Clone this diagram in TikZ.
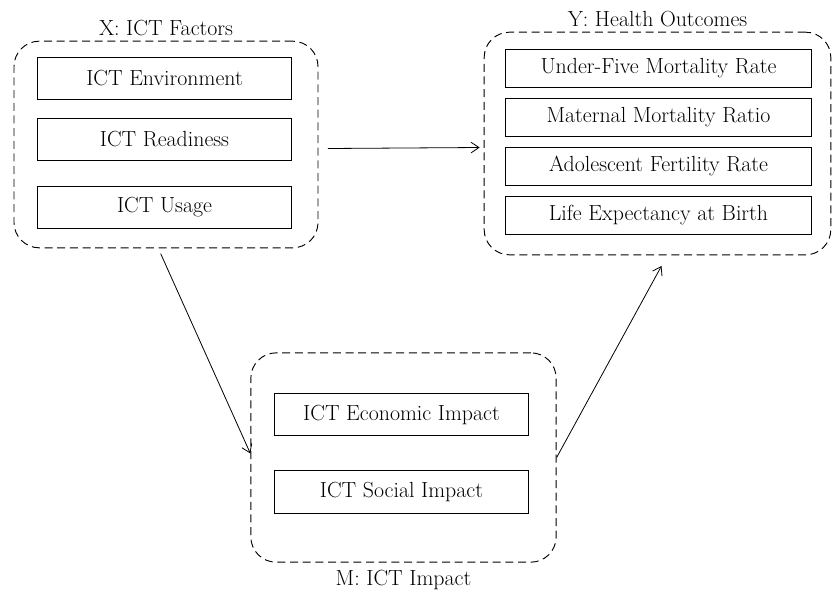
\documentclass[tikz,border=0pt]{standalone}
\usepackage{amsmath}
\usepackage{fontspec}
\usepackage{tikz}
\usetikzlibrary{positioning,arrows.meta}

\begin{document}
\begin{tikzpicture}[x=0.75pt,y=-0.75pt,every node/.style={font=\fontsize{16.4}{19}\selectfont}]
\tikzstyle{group}=[draw,dash pattern=on 6pt off 3.5pt,line width=0.7pt,rounded corners=19pt];
\tikzstyle{item}=[draw,line width=0.7pt,inner sep=0pt];
\tikzstyle{arr}=[line width=0.6pt,-{Straight Barb[length=6pt,width=8pt]}];
\useasboundingbox (0,0) rectangle (832,597);

% X: ICT factors
\node[group,minimum width=228pt,minimum height=155pt] (X) at (166,144.5) {};
\node[above=0pt of X] (Xlab) {X: ICT Factors};
\node[item,minimum width=190pt,minimum height=31.5pt] (env) at (164.5,78) {ICT Environment};
\node[item,minimum width=190pt,minimum height=31.5pt] (ready) at (164.5,139) {ICT Readiness};
\node[item,minimum width=190pt,minimum height=31.5pt] (usage) at (164.5,207) {ICT Usage};

% Y: health outcomes
\node[group,minimum width=260pt,minimum height=167pt] (Y) at (657.5,143.5) {};
\node[above=0pt of Y] (Ylab) {Y: Health Outcomes};
\node[item,minimum width=230pt,minimum height=28.5pt] (u5) at (658.5,68) {Under-Five Mortality Rate};
\node[item,minimum width=230pt,minimum height=28.5pt] (mmr) at (658.5,117.5) {Maternal Mortality Ratio};
\node[item,minimum width=230pt,minimum height=28.5pt] (afr) at (658.5,166) {Adolescent Fertility Rate};
\node[item,minimum width=230pt,minimum height=28.5pt] (life) at (658.5,215) {Life Expectancy at Birth};

% M: ICT impact
\node[group,minimum width=229pt,minimum height=157pt] (M) at (403.5,457.5) {};
\node[below=2pt of M] (Mlab) {M: ICT Impact};
\node[item,minimum width=190pt,minimum height=32pt] (econ) at (401.5,414.5) {ICT Economic Impact};
\node[item,minimum width=190pt,minimum height=32pt] (social) at (401.5,492) {ICT Social Impact};

% paths
\draw[arr] ([xshift=7pt,yshift=-3pt]X.east) -- ([xshift=-3pt,yshift=-3pt]Y.west);
\draw[arr] ([xshift=-4pt,yshift=-4pt]X.south) -- ([yshift=3pt]M.west);
\draw[arr] (M.east) -- ([xshift=3pt,yshift=-8pt]Y.south);
\end{tikzpicture}
\end{document}
